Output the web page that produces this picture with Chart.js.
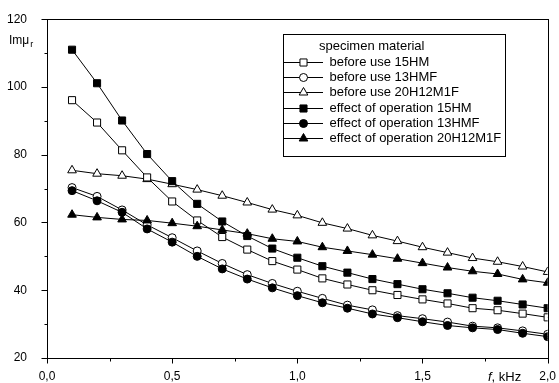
<!DOCTYPE html>
<html><head><meta charset="utf-8">
<script src="https://cdn.jsdelivr.net/npm/chart.js@4.4.0/dist/chart.umd.min.js"></script>
<style>html,body{margin:0;padding:0;background:#fff;}canvas{display:block;}</style>
</head><body>
<canvas id="c" width="559" height="383"></canvas>
<script>
// ---- data ----
const frequencyKHz = [0.1,0.2,0.3,0.4,0.5,0.6,0.7,0.8,0.9,1.0,1.1,1.2,1.3,1.4,1.5,1.6,1.7,1.8,1.9,2.0];
const beforeUse15HM      = [96.1,89.5,81.3,73.3,66.2,60.6,55.7,52.0,48.6,46.1,43.5,41.7,40.0,38.6,37.3,36.1,34.7,34.1,33.1,32.0];
const beforeUse13HMF     = [70.3,67.7,63.7,59.3,55.5,51.6,47.9,44.6,42.0,39.7,37.6,35.6,34.2,32.5,31.6,30.6,29.4,28.9,28.0,27.0];
const beforeUse20H12M1F  = [75.4,74.4,73.8,72.8,71.3,69.7,67.9,65.9,63.8,62.1,59.9,58.2,56.2,54.5,52.7,51.1,49.5,48.4,47.0,45.4];
const effect15HM         = [111.0,101.1,90.1,80.2,72.2,65.5,60.3,56.0,52.3,49.6,47.1,45.2,43.3,41.8,40.3,39.1,37.8,36.9,35.8,34.7];
const effect13HMF        = [69.4,66.4,63.0,58.1,54.2,50.0,46.3,43.3,40.7,38.4,36.3,34.7,33.0,31.9,30.7,29.6,28.9,28.4,27.3,26.3];
const effect20H12M1F     = [62.3,61.5,60.9,60.6,59.8,58.9,57.8,56.7,55.2,54.4,52.7,51.6,50.5,49.3,48.0,46.7,45.6,44.8,43.2,42.2];
const seriesLabels = ['before use 15HM','before use 13HMF','before use 20H12M1F','effect of operation 15HM','effect of operation 13HMF','effect of operation 20H12M1F'];
const legendTitle = 'specimen material';
const xTickValues = [0,0.5,1.0,1.5,2.0];
const xTickLabels = ['0,0','0,5','1,0','1,5','2,0'];
const yTickValues = [20,40,60,80,100,120];
const yTickLabels = ['20','40','60','80','100','120'];
const yAxisTitle = ['Im\u03bc','r'];
const xAxisTitle = ['f',', kHz'];

// ---- styling ----
const FONT = '"Liberation Sans", Arial, Helvetica, sans-serif';
Chart.defaults.font.family = FONT;
Chart.defaults.font.size = 12;
Chart.defaults.color = '#000';

const styles = [
  {pointStyle:'rect', radius:5, fill:'#fff'},
  {pointStyle:'circle', radius:4, fill:'#fff'},
  {pointStyle:'triangle', radius:5, fill:'#fff'},
  {pointStyle:'rect', radius:5, fill:'#000'},
  {pointStyle:'circle', radius:4, fill:'#000'},
  {pointStyle:'triangle', radius:5, fill:'#000'}
];
const seriesValues = [beforeUse15HM, beforeUse13HMF, beforeUse20H12M1F, effect15HM, effect13HMF, effect20H12M1F];

const datasets = seriesValues.map((vals, i) => ({
  label: seriesLabels[i],
  data: vals.map((v, j) => ({x: frequencyKHz[j], y: v})),
  borderColor: '#000',
  borderWidth: 1,
  pointStyle: styles[i].pointStyle,
  pointRadius: styles[i].radius,
  pointHoverRadius: styles[i].radius,
  pointBackgroundColor: styles[i].fill,
  pointBorderColor: '#000',
  pointBorderWidth: 1,
  tension: 0,
  fill: false,
  order: i >= 3 ? 0 : 1
}));

const decor = {
  id: 'decor',
  afterDraw(chart) {
    const ctx = chart.ctx, a = chart.chartArea, xs = chart.scales.x, ys = chart.scales.y;
    ctx.save();
    ctx.strokeStyle = '#000';
    ctx.lineWidth = 1;
    const L = Math.round(a.left), T = Math.round(a.top), R = Math.round(a.right), B = Math.round(a.bottom);
    ctx.strokeRect(L + 0.5, T + 0.5, R - L, B - T);
    ctx.beginPath();
    const yStep = (yTickValues[1] - yTickValues[0]) / 2;
    for (let v = yTickValues[0]; v <= yTickValues[yTickValues.length - 1] + 1e-9; v += yStep) {
      const y = Math.round(ys.getPixelForValue(v)) + 0.5;
      const major = yTickValues.some(t => Math.abs(t - v) < 1e-6);
      const len = major ? 6 : 3;
      ctx.moveTo(L + 0.5 - len, y); ctx.lineTo(L + 0.5, y);
    }
    const xStep = (xTickValues[1] - xTickValues[0]) / 2;
    for (let v = xTickValues[0]; v <= xTickValues[xTickValues.length - 1] + 1e-9; v += xStep) {
      const x = Math.round(xs.getPixelForValue(v)) + 0.5;
      const major = xTickValues.some(t => Math.abs(t - v) < 1e-6);
      const len = major ? 5 : 3;
      ctx.moveTo(x, B + 0.5); ctx.lineTo(x, B + 0.5 + len);
    }
    ctx.stroke();

    ctx.fillStyle = '#000';
    ctx.textBaseline = 'alphabetic';
    ctx.textAlign = 'left';
    ctx.font = '12px ' + FONT;
    ctx.fillText(yAxisTitle[0], 9, 44);
    const w0 = ctx.measureText(yAxisTitle[0]).width;
    ctx.font = '9px ' + FONT;
    ctx.fillText(yAxisTitle[1], 9 + w0 + 1, 47);
    ctx.font = 'italic 13px ' + FONT;
    ctx.fillText(xAxisTitle[0], 488, 381);
    const wf = ctx.measureText(xAxisTitle[0]).width;
    ctx.font = '13px ' + FONT;
    ctx.fillText(xAxisTitle[1], 488 + wf, 381);

    const bx = 283, by = 34, bw = 222, bh = 122;
    ctx.fillStyle = '#fff';
    ctx.fillRect(bx, by, bw, bh);
    ctx.strokeRect(bx + 0.5, by + 0.5, bw, bh);
    ctx.fillStyle = '#000';
    ctx.textBaseline = 'middle';
    ctx.font = '13px ' + FONT;
    ctx.fillText(legendTitle, 319, 46);
    for (let i = 0; i < seriesLabels.length; i++) {
      const y = Math.round(61.7 + i * 15.3) + 0.5;
      ctx.beginPath();
      ctx.moveTo(284, y); ctx.lineTo(323, y);
      ctx.stroke();
      ctx.fillStyle = styles[i].fill;
      ctx.strokeStyle = '#000';
      Chart.helpers.drawPoint(ctx, {pointStyle: styles[i].pointStyle, radius: styles[i].radius, borderWidth: 1, rotation: 0}, 303.5, y);
      ctx.fillStyle = '#000';
      ctx.fillText(seriesLabels[i], 329.5, y);
    }
    ctx.restore();
  }
};

new Chart(document.getElementById('c'), {
  type: 'line',
  data: {datasets},
  options: {
    responsive: false,
    animation: false,
    devicePixelRatio: 1,
    layout: {padding: {top: 17, right: 9, left: 0, bottom: 0}},
    plugins: {legend: {display: false}, tooltip: {enabled: false}},
    scales: {
      x: {
        type: 'linear', min: xTickValues[0], max: xTickValues[xTickValues.length - 1],
        grid: {display: false}, border: {display: false},
        afterBuildTicks: s => { s.ticks = xTickValues.map(v => ({value: v})); },
        ticks: {padding: 3, maxRotation: 0, autoSkip: false,
          callback: (v) => xTickLabels[xTickValues.findIndex(t => Math.abs(t - v) < 1e-6)] ?? ''},
        afterFit: s => { s.height = 25; }
      },
      y: {
        type: 'linear', min: yTickValues[0], max: yTickValues[yTickValues.length - 1],
        grid: {display: false}, border: {display: false},
        afterBuildTicks: s => { s.ticks = yTickValues.map(v => ({value: v})); },
        ticks: {padding: 12, autoSkip: false,
          callback: (v) => yTickLabels[yTickValues.findIndex(t => Math.abs(t - v) < 1e-6)] ?? ''},
        afterFit: s => { s.width = 47; }
      }
    }
  },
  plugins: [decor]
});
</script>
</body></html>
